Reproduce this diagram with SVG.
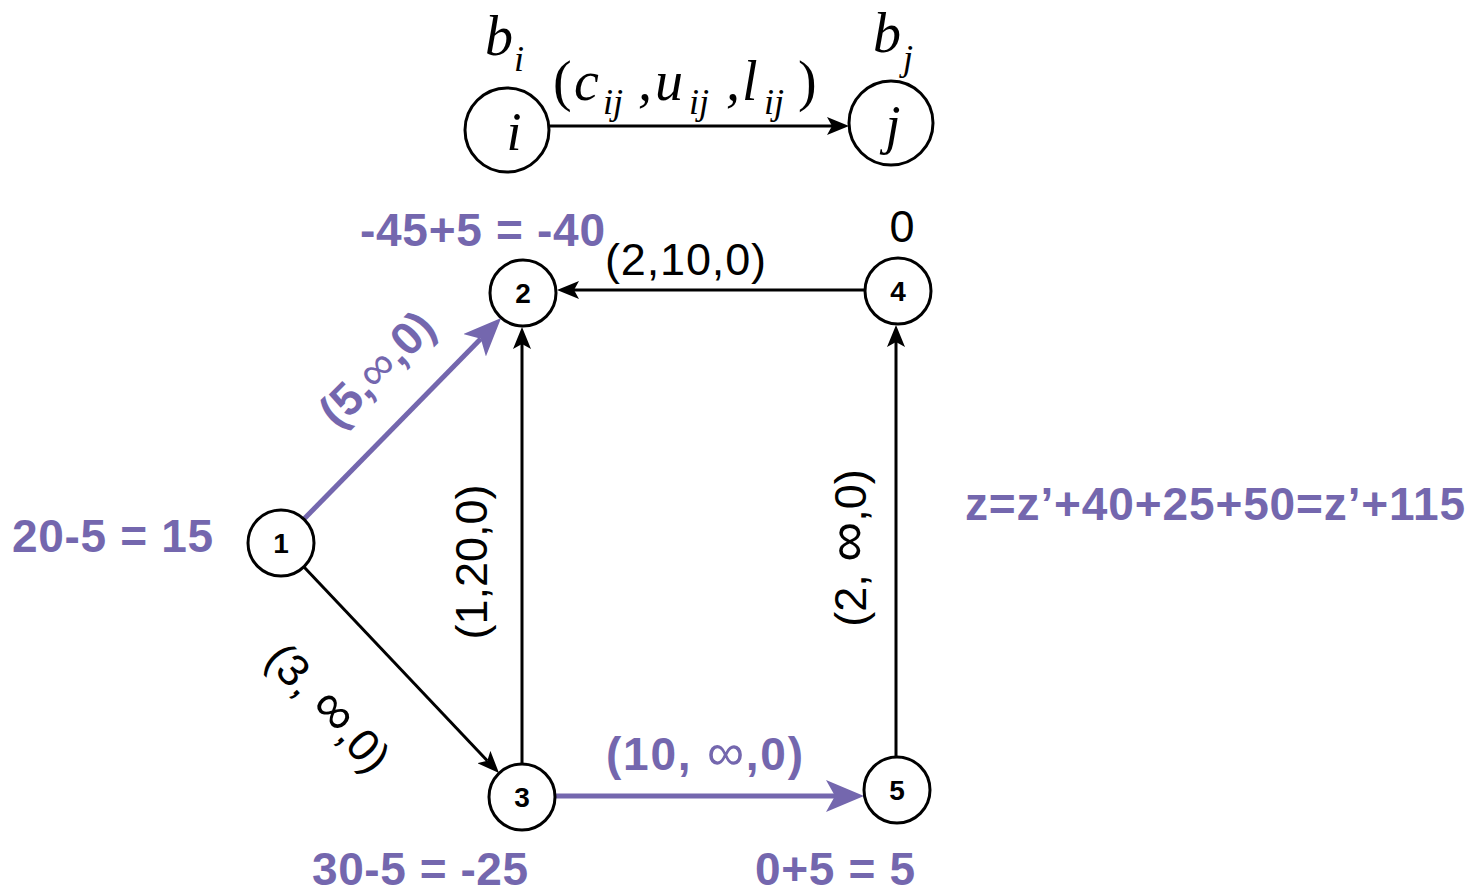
<svg xmlns="http://www.w3.org/2000/svg" width="1472" height="893" viewBox="0 0 1472 893">
<style>
.node{fill:#fff;stroke:#000;stroke-width:3}
.num{font-family:"Liberation Sans",Arial,sans-serif;font-weight:bold;font-size:28px;text-anchor:middle}
.math{font-family:"Liberation Serif","Times New Roman",serif;font-style:italic}
.lbl{font-family:"Liberation Sans",Arial,sans-serif;font-size:45px}
.inf{font-size:56px}
.pl{font-family:"Liberation Sans",Arial,sans-serif;font-size:46px;font-weight:bold;fill:#7467AE}
.blk{stroke:#000;stroke-width:3;fill:none}
.pur{stroke:#7467AE;stroke-width:5;fill:none}
</style>
<defs>
<marker id="ab" viewBox="0 -9 22 18" markerWidth="22" markerHeight="18" markerUnits="userSpaceOnUse" refX="5" refY="0" orient="auto">
<path d="M0,-9 L22,0 L0,9 L5,0 z" fill="#000"/>
</marker>
<marker id="ap" viewBox="0 -16 38 32" markerWidth="38" markerHeight="32" markerUnits="userSpaceOnUse" refX="9" refY="0" orient="auto">
<path d="M0,-16 L38,0 L0,16 L9,0 z" fill="#7467AE"/>
</marker>
</defs>
<rect width="1472" height="893" fill="#fff"/>
<g id="connectors">
<line class="blk" x1="550" y1="126" x2="832" y2="126" marker-end="url(#ab)"/>
<line class="pur" x1="304" y1="519" x2="480.8" y2="338.8" marker-end="url(#ap)"/>
<line class="blk" x1="304" y1="567" x2="487.3" y2="760.7" marker-end="url(#ab)"/>
<line class="blk" x1="522" y1="764" x2="522" y2="344" marker-end="url(#ab)"/>
<line class="blk" x1="865" y1="290" x2="574" y2="290" marker-end="url(#ab)"/>
<line class="blk" x1="896" y1="757" x2="896" y2="342" marker-end="url(#ab)"/>
<line class="pur" x1="555" y1="796" x2="835" y2="796" marker-end="url(#ap)"/>
</g>
<g id="legend">
<text class="math" x="485" y="55" font-size="56">b</text>
<text class="math" x="514" y="71" font-size="36">i</text>
<text class="math" x="873" y="52" font-size="56">b</text>
<text class="math" x="903" y="70" font-size="36">j</text>
<text class="math" font-size="56">
<tspan x="553" y="100" font-style="normal">(</tspan><tspan x="574" y="100">c</tspan><tspan x="603" y="114" font-size="36">ij</tspan><tspan x="638" y="100">,</tspan><tspan x="655" y="100">u</tspan><tspan x="689" y="114" font-size="36">ij</tspan><tspan x="726" y="100">,</tspan><tspan x="742" y="100">l</tspan><tspan x="764" y="114" font-size="36">ij</tspan><tspan x="798" y="100" font-style="normal">)</tspan>
</text>
</g>
<g id="node-i"><circle class="node" cx="507" cy="130" r="42"/><text class="math" x="514" y="150" font-size="54" text-anchor="middle">i</text></g>
<g id="node-j"><circle class="node" cx="891" cy="123" r="42"/><text class="math" x="893" y="143" font-size="54" text-anchor="middle">j</text></g>
<g id="node-1"><circle class="node" cx="281" cy="543" r="33"/><text class="num" x="281" y="553">1</text></g>
<g id="node-2"><circle class="node" cx="523" cy="293" r="33"/><text class="num" x="523" y="303">2</text></g>
<g id="node-3"><circle class="node" cx="522" cy="797" r="33"/><text class="num" x="522" y="807">3</text></g>
<g id="node-4"><circle class="node" cx="898" cy="291" r="33"/><text class="num" x="898" y="301">4</text></g>
<g id="node-5"><circle class="node" cx="897" cy="790" r="33"/><text class="num" x="897" y="800">5</text></g>
<g id="labels">
<text class="pl" x="360" y="246" textLength="245">-45+5 = -40</text>
<text class="lbl" x="605" y="275" textLength="161">(2,10,0)</text>
<text class="lbl" x="902" y="242" text-anchor="middle" font-size="40">0</text>
<text class="pl" x="12" y="552" textLength="201">20-5 = 15</text>
<text class="pl" x="312" y="885" textLength="216">30-5 = -25</text>
<text class="pl" x="755" y="885" textLength="160">0+5 = 5</text>
<text class="pl" x="606" y="770" textLength="197">(10, <tspan font-weight="normal" font-size="52">∞</tspan>,0)</text>
<text class="pl" x="965" y="520" textLength="500">z=z’+40+25+50=z’+115</text>
<text class="pl" font-size="42" text-anchor="middle" transform="translate(378,370) rotate(-45)" y="14">(5,<tspan font-weight="normal" font-size="48">∞</tspan>,0)</text>
<text class="lbl" text-anchor="middle" transform="translate(328,708) rotate(47)" y="15">(3, <tspan class="inf">∞</tspan>,0)</text>
<text class="lbl" text-anchor="middle" transform="translate(472,562) rotate(-90)" y="15">(1,20,0)</text>
<text class="lbl" text-anchor="middle" transform="translate(851,548) rotate(-90)" y="15">(2, <tspan class="inf">∞</tspan>,0)</text>
</g>
</svg>
